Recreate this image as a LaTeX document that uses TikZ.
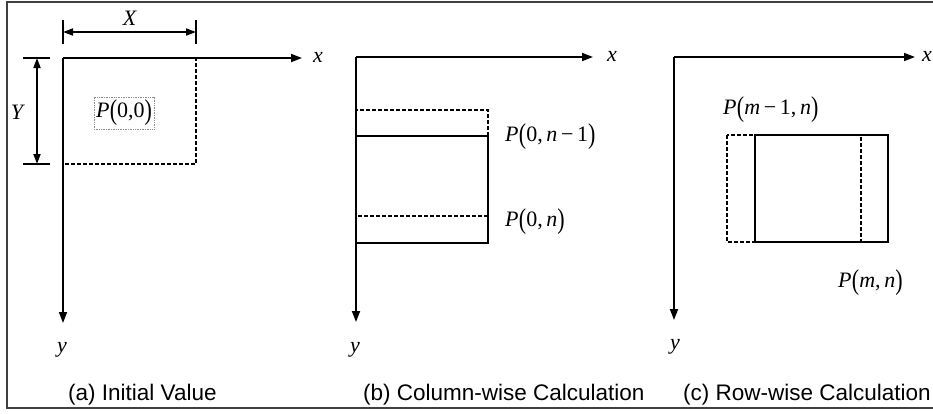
\documentclass[tikz,border=0pt]{standalone}
\usepackage{fontspec}
\setmainfont{Liberation Serif}
\setsansfont{Liberation Sans}
\usetikzlibrary{arrows.meta}
\newcommand{\lpar}{\raisebox{-0.12em}{\scalebox{1}[1.3]{(}}}
\newcommand{\rpar}{\raisebox{-0.12em}{\scalebox{1}[1.3]{)}}}
\newcommand{\Pof}[1]{\textit{P}\kern0.3pt\lpar#1\rpar}
\begin{document}
\begin{tikzpicture}[x=1pt,y=-1pt,
  frameline/.style={line width=1.4pt,draw=black!75},
  axis/.style={line width=1.8pt,-{Triangle[length=11pt,width=8pt]}},
  dimline/.style={line width=1.8pt,{Triangle[length=10pt,width=7pt]}-{Triangle[length=10pt,width=7pt]}},
  tickline/.style={line width=2pt},
  dashbox/.style={line width=2.6pt,dash pattern=on 4pt off 2pt},
  solidbox/.style={line width=2.6pt},
  lab/.style={font=\fontsize{22}{24}\selectfont,inner sep=0pt},
  captxt/.style={font=\sffamily\fontsize{22.5}{24}\selectfont,inner sep=0pt,anchor=west}]
\useasboundingbox (0,0) rectangle (933,413);
% frame
\coordinate (ftl) at (7,2); \coordinate (ftr) at (933,2);
\coordinate (fbl) at (7,408); \coordinate (fbr) at (933,408);
\draw[frameline] (ftr) -- (ftl) -- (fbl) -- (fbr);

% ---------- panel (a)
\coordinate (Oa) at (63,58);
\coordinate (Xa) at (302,58);
\coordinate (Ya) at (63,323);
\draw[axis] (Oa) -- (Xa);
\draw[axis] (Oa) -- (Ya);
\node[lab] (xa) at (318,57) {\textit{x}};
\node[lab] (ya) at (62,350) {\textit{y}};
\draw[dashbox] (63,58) rectangle (196,164);
% X dimension
\coordinate (xt1a) at (63,20); \coordinate (xt1b) at (63,44);
\coordinate (xt2a) at (196,20); \coordinate (xt2b) at (196,44);
\draw[tickline] (xt1a) -- (xt1b);
\draw[tickline] (xt2a) -- (xt2b);
\coordinate (xd1) at (63,32); \coordinate (xd2) at (196,32);
\draw[dimline] (xd1) -- (xd2);
\node[lab] (Xlab) at (130,18) {\textit{X}};
% Y dimension
\coordinate (yt1a) at (23,58); \coordinate (yt1b) at (50,58);
\coordinate (yt2a) at (23,164); \coordinate (yt2b) at (50,164);
\draw[tickline] (yt1a) -- (yt1b);
\draw[tickline] (yt2a) -- (yt2b);
\coordinate (yd1) at (37,58); \coordinate (yd2) at (37,164);
\draw[dimline] (yd1) -- (yd2);
\node[lab] (Ylab) at (18,112) {\textit{Y}};
\node[lab,draw=black!45,densely dotted,line width=0.7pt,inner xsep=2pt,inner ysep=3pt] (P00) at (124,113) {\Pof{0,0}};
\node[captxt] (capa) at (68,395) {(a) Initial Value};

% ---------- panel (b)
\coordinate (Ob) at (356,57);
\coordinate (Xb) at (593,57);
\coordinate (Yb) at (356,322);
\draw[axis] (Ob) -- (Xb);
\draw[axis] (Ob) -- (Yb);
\node[lab] (xb) at (612,56) {\textit{x}};
\node[lab] (yb) at (355,350) {\textit{y}};
\draw[dashbox] (356,110) rectangle (488,216);
\draw[solidbox] (356,136) rectangle (488,243);
\node[lab,anchor=west] (Pb1) at (505,137) {\Pof{0,\,\textit{n}\,−\,1}};
\node[lab,anchor=west] (Pb2) at (505,222) {\Pof{0,\,\textit{n}}};
\node[captxt] (capb) at (363,395) {(b) Column-wise Calculation};

% ---------- panel (c)
\coordinate (Oc) at (674,57);
\coordinate (Xc) at (915,57);
\coordinate (Yc) at (674,320);
\draw[axis] (Oc) -- (Xc);
\draw[axis] (Oc) -- (Yc);
\node[lab] (xc) at (927,56) {\textit{x}};
\node[lab] (yc) at (675,347) {\textit{y}};
\draw[dashbox] (727,135) rectangle (861,242);
\draw[solidbox] (755,135) rectangle (888,242);
\node[lab,anchor=west] (Pc1) at (723,110) {\Pof{\textit{m}\,−\,1,\,\textit{n}}};
\node[lab,anchor=west] (Pc2) at (838,283) {\Pof{\textit{m},\,\textit{n}}};
\node[captxt] (capc) at (683,395) {(c) Row-wise Calculation};
\end{tikzpicture}
\end{document}
